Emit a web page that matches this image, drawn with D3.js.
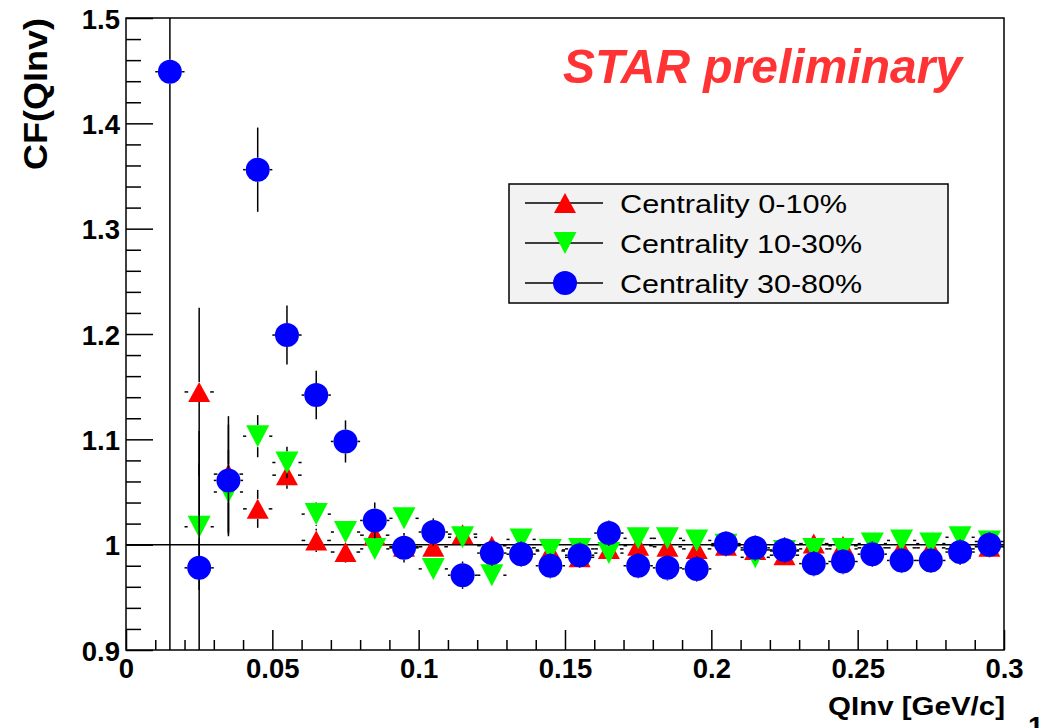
<!DOCTYPE html>
<html>
<head>
<meta charset="utf-8">
<script src="https://cdn.jsdelivr.net/npm/d3@7"></script>
<style>
  body { margin: 0; background: #fff; }
  text { font-family: "Liberation Sans", Arial, Helvetica, sans-serif; }
</style>
</head>
<body>
<div id="chart"></div>
<script>
// bin centres (QInv, GeV/c)
let qinv = [0.015, 0.025, 0.035, 0.045, 0.055, 0.065, 0.075, 0.085, 0.095, 0.105,
  0.115, 0.125, 0.135, 0.145, 0.155, 0.165, 0.175, 0.185, 0.195, 0.205,
  0.215, 0.225, 0.235, 0.245, 0.255, 0.265, 0.275, 0.285, 0.295];

// Centrality 0-10%
let cf0_10 = [null, 1.145, 1.067, 1.034, 1.066, 1.004, 0.993, 1.009, 0.998, 0.998,
  1.010, 0.999, 0.997, 0.994, 0.988, 0.996, 0.999, 0.998, 0.996, 0.999,
  0.995, 0.990, 1.001, 0.999, 0.997, 0.997, 0.997, 0.996, 0.998];
let err0_10 = [null, 0.08, 0.055, 0.018, 0.013, 0.011, 0.010, 0.009, 0.009, 0.009,
  0.008, 0.008, 0.008, 0.008, 0.008, 0.008, 0.008, 0.008, 0.008, 0.008,
  0.008, 0.008, 0.008, 0.008, 0.008, 0.008, 0.008, 0.008, 0.008];

// Centrality 10-30%
let cf10_30 = [null, 1.017, 1.050, 1.103, 1.078, 1.029, 1.012, 0.996, 1.025, 0.977,
  1.007, 0.971, 1.005, 0.995, 0.996, 0.992, 1.006, 1.006, 1.004, 1.000,
  0.988, 0.994, 0.996, 0.996, 1.001, 1.004, 1.001, 1.007, 1.003];
let err10_30 = [null, 0.06, 0.04, 0.02, 0.015, 0.011, 0.010, 0.009, 0.009, 0.009,
  0.008, 0.008, 0.008, 0.008, 0.008, 0.008, 0.008, 0.008, 0.008, 0.008,
  0.008, 0.008, 0.008, 0.008, 0.008, 0.008, 0.008, 0.008, 0.008];

// Centrality 30-80%
let cf30_80 = [1.449, 0.978, 1.061, 1.356, 1.199, 1.142, 1.098, 1.023, 0.997, 1.012,
  0.971, 0.992, 0.991, 0.980, 0.990, 1.011, 0.980, 0.978, 0.977, 1.001,
  0.997, 0.995, 0.982, 0.984, 0.991, 0.985, 0.985, 0.993, 1.000];
let err30_80 = [0.7, 0.13, 0.053, 0.04, 0.028, 0.023, 0.02, 0.017, 0.014, 0.013,
  0.013, 0.012, 0.012, 0.012, 0.012, 0.012, 0.012, 0.012, 0.012, 0.012,
  0.012, 0.012, 0.012, 0.012, 0.012, 0.012, 0.012, 0.012, 0.012];

let binHalf = 0.005;

let seriesNames = ["Centrality 0-10%", "Centrality 10-30%", "Centrality 30-80%"];

let xMajor = [0, 0.05, 0.1, 0.15, 0.2, 0.25, 0.3];
let xLabels = ["0", "0.05", "0.1", "0.15", "0.2", "0.25", "0.3"];
let yMajor = [0.9, 1.0, 1.1, 1.2, 1.3, 1.4, 1.5];
let yLabels = ["0.9", "1", "1.1", "1.2", "1.3", "1.4", "1.5"];

// svg size and frame
let svgWidth = 1039;
let svgHeight = 728;
let frame = { left: 126, right: 1004, top: 18, bottom: 650 };

let svg = d3.select("#chart")
  .append("svg")
  .attr("width", svgWidth)
  .attr("height", svgHeight);

svg.append("rect").attr("width", svgWidth).attr("height", svgHeight).attr("fill", "#fff");

let x = d3.scaleLinear().domain([0, 0.3]).range([frame.left, frame.right]);
let y = d3.scaleLinear().domain([0.9, 1.5]).range([frame.bottom, frame.top]);

// minor ticks
let xMinor = d3.range(0, 31).map(i => i / 100).filter(v => !xMajor.some(m => Math.abs(m - v) < 1e-9));
let yMinor = d3.range(0, 31).map(i => 0.9 + i * 0.02).filter(v => !yMajor.some(m => Math.abs(m - v) < 1e-9));

// x axis
let xAxis = svg.append("g")
  .attr("transform", `translate(0, ${frame.bottom})`)
  .call(d3.axisBottom(x).tickValues(xMajor).tickSize(-20).tickPadding(8)
    .tickFormat((d, i) => xLabels[i]));
xAxis.append("g").call(d3.axisBottom(x).tickValues(xMinor).tickSize(-10).tickFormat(""));

// y axis
let yAxis = svg.append("g")
  .attr("transform", `translate(${frame.left}, 0)`)
  .call(d3.axisLeft(y).tickValues(yMajor).tickSize(-27).tickPadding(6)
    .tickFormat((d, i) => yLabels[i]));
yAxis.append("g").call(d3.axisLeft(y).tickValues(yMinor).tickSize(-15).tickFormat(""));

svg.selectAll(".domain").remove();
svg.selectAll(".tick line").attr("stroke", "#000").attr("stroke-width", 1.5);
svg.selectAll(".tick text")
  .attr("fill", "#000")
  .attr("font-size", 27.5)
  .attr("font-weight", "bold")
  .style("font-family", "'Liberation Sans', Arial, sans-serif");
yAxis.selectAll(".tick text").attr("dy", "0.37em");

// clip for data
svg.append("clipPath").attr("id", "frameClip")
  .append("rect")
  .attr("x", frame.left).attr("y", frame.top)
  .attr("width", frame.right - frame.left).attr("height", frame.bottom - frame.top);

let plot = svg.append("g").attr("clip-path", "url(#frameClip)");

// reference line at CF = 1
plot.append("line")
  .attr("x1", x(0)).attr("x2", x(0.3))
  .attr("y1", y(1)).attr("y2", y(1))
  .attr("stroke", "#000").attr("stroke-width", 1.5);

// marker shapes (half width, half height)
function markerPath(type, cx, cy) {
  let p = d3.path();
  if (type === "up") {
    p.moveTo(cx - 11, cy + 10); p.lineTo(cx + 11, cy + 10); p.lineTo(cx, cy - 10); p.closePath();
  } else if (type === "down") {
    p.moveTo(cx - 11.5, cy - 11); p.lineTo(cx + 11.5, cy - 11); p.lineTo(cx, cy + 11); p.closePath();
  } else {
    p.arc(cx, cy, 12, 0, 2 * Math.PI);
  }
  return p.toString();
}

let markerHalf = { up: [11, 10], down: [11.5, 11], circle: [12, 12] };

let series = [
  { name: seriesNames[0], values: cf0_10, errors: err0_10, color: "#ff0000", marker: "up" },
  { name: seriesNames[1], values: cf10_30, errors: err10_30, color: "#00ff00", marker: "down" },
  { name: seriesNames[2], values: cf30_80, errors: err30_80, color: "#0000ff", marker: "circle" }
];

series.forEach(function(s) {
  let pts = qinv.map((q, i) => ({ q: q, v: s.values[i], e: s.errors[i] })).filter(d => d.v !== null);
  let g = plot.append("g");
  let hw = markerHalf[s.marker][0], hh = markerHalf[s.marker][1];
  let segs = [];
  pts.forEach(function(d) {
    let cx = x(d.q), cy = y(d.v);
    let xl = x(d.q - binHalf), xr = x(d.q + binHalf);
    let yt = y(d.v + d.e), yb = y(d.v - d.e);
    if (cx - xl > hw) {
      segs.push([xl, cy, cx - hw, cy]);
      segs.push([cx + hw, cy, xr, cy]);
    }
    if (cy - yt > hh) {
      segs.push([cx, yt, cx, cy - hh]);
      segs.push([cx, cy + hh, cx, yb]);
    }
  });
  g.selectAll("line")
    .data(segs)
    .enter()
    .append("line")
    .attr("x1", d => d[0]).attr("y1", d => d[1])
    .attr("x2", d => d[2]).attr("y2", d => d[3])
    .attr("stroke", "#000").attr("stroke-width", 1.5);
  g.selectAll("path")
    .data(pts)
    .enter()
    .append("path")
    .attr("d", d => markerPath(s.marker, x(d.q), y(d.v)))
    .attr("fill", s.color);
});

// frame
svg.append("rect")
  .attr("x", frame.left).attr("y", frame.top)
  .attr("width", frame.right - frame.left).attr("height", frame.bottom - frame.top)
  .attr("fill", "none").attr("stroke", "#000").attr("stroke-width", 1.5);

// axis titles
svg.append("text")
  .attr("x", 1005).attr("y", 715)
  .attr("text-anchor", "end")
  .attr("font-size", 26).attr("font-weight", "bold")
  .attr("textLength", 177).attr("lengthAdjust", "spacingAndGlyphs")
  .text("QInv [GeV/c]");

svg.append("text")
  .attr("transform", "translate(47, 18) rotate(-90)")
  .attr("text-anchor", "end")
  .attr("font-size", 34).attr("font-weight", "bold")
  .attr("textLength", 152).attr("lengthAdjust", "spacingAndGlyphs")
  .text("CF(QInv)");

// cut-off page number at bottom right, as in the source slide
svg.append("text")
  .attr("x", 1028).attr("y", 736)
  .attr("font-size", 28).attr("font-weight", "bold")
  .text("1");

// STAR preliminary
svg.append("text")
  .attr("x", 563).attr("y", 83)
  .attr("font-size", 49).attr("font-weight", "bold").attr("font-style", "italic")
  .attr("fill", "#ff3333")
  .attr("textLength", 399).attr("lengthAdjust", "spacingAndGlyphs")
  .text("STAR preliminary");

// legend
let legend = svg.append("g");
legend.append("rect")
  .attr("x", 509).attr("y", 184).attr("width", 439).attr("height", 119)
  .attr("fill", "#f2f2f2").attr("stroke", "#000").attr("stroke-width", 1.5);

let legendLengths = [227, 242, 242];
series.forEach(function(s, i) {
  let ly = 203 + i * 40;
  legend.append("line")
    .attr("x1", 525).attr("x2", 603).attr("y1", ly).attr("y2", ly)
    .attr("stroke", "#000").attr("stroke-width", 1.5);
  legend.append("path")
    .attr("d", markerPath(s.marker, 565, ly))
    .attr("fill", s.color);
  legend.append("text")
    .attr("x", 620).attr("y", ly + 9.5)
    .attr("font-size", 26)
    .attr("textLength", legendLengths[i]).attr("lengthAdjust", "spacingAndGlyphs")
    .text(s.name);
});
</script>
</body>
</html>
